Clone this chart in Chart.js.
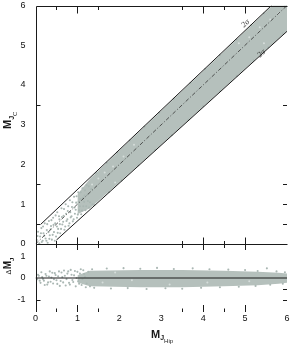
<!DOCTYPE html>
<html><head><meta charset="utf-8">
<script src="https://cdn.jsdelivr.net/npm/chart.js@4.4.1/dist/chart.umd.min.js"></script>
<style>
html,body{margin:0;padding:0;background:#fff;width:290px;height:345px;overflow:hidden}
#top{position:absolute;left:0;top:0}
#bot{position:absolute;left:0;top:240px}
</style></head><body>
<canvas id="top" width="290" height="250"></canvas>
<canvas id="bot" width="290" height="105"></canvas>
<script>
// ---------- tick labels / tick marks ----------
const X_TICK_LABELS = [0, 1, 2, 3, 4, 5, 6];
const Y_TOP_TICK_LABELS = [0, 1, 2, 3, 4, 5, 6];
const Y_RES_TICK_LABELS = [-1, 0, 1];
const X_TICK_MARKS = [0.5, 1, 1.5, 3.5, 4, 4.5, 5];
const TOP_LEFT_MARKS = [0.5, 1.5, 3.5];
const TOP_RIGHT_MARKS = [0.5, 1, 1.5, 3.5];
const RES_LEFT_MARKS = [-1];
const RES_RIGHT_MARKS = [-0.5, -1];

// ---------- top panel: relation lines ----------
const DIAG_X = [0, 6];
const DIAG_Y = [0, 6];
const UPPER_SIGMA_X = [0.13, 5.63];
const UPPER_SIGMA_Y = [0.5, 6.0];
const LOWER_SIGMA_X = [0.5, 6.0];
const LOWER_SIGMA_Y = [0.1, 5.35];
const SIGMA_LABEL_X = [5.01, 5.39];
const SIGMA_LABEL_Y = [5.55, 4.79];
const SIGMA_LABEL_TEXT = ['2σ', '2σ'];

// ---------- top panel: dense cloud envelope ----------
const CLOUD_UP_X = [1.0, 1.3, 2, 3, 4, 5, 6];
const CLOUD_UP_Y = [1.25, 1.64, 2.35, 3.35, 4.35, 5.35, 6.35];
const CLOUD_LO_X = [1.0, 1.3, 2, 3, 4, 5, 6];
const CLOUD_LO_Y = [0.75, 0.9, 1.55, 2.5, 3.45, 4.41, 5.36];

// ---------- top panel: individual stars ----------
const TOP_STAR_X = [0.03,0.06,0.09,0.11,0.14,0.17,0.19,0.22,0.24,0.27,0.29,0.32,0.34,0.37,0.39,0.42,0.44,0.47,0.49,0.52,0.54,0.57,0.59,0.62,0.64,0.67,0.69,0.72,0.74,0.77,0.79,0.82,0.84,0.87,0.89,0.92,0.94,0.97,0.99,1.02,1.04,1.07,1.09,1.12,1.14,1.17,1.19,1.22,1.25,1.28,
  0.05,0.13,0.15,0.18,0.21,0.26,0.28,0.31,0.33,0.36,0.38,0.41,0.43,0.46,0.48,0.51,0.53,0.56,0.58,0.61,0.63,0.66,0.68,0.71,0.73,0.76,0.78,0.81,0.83,0.86,0.88,0.91,0.93,0.96,0.98,1.01,1.03,1.06,1.08,1.11,1.13,1.16,1.18,1.21,1.24,1.27,1.3,1.33,1.36,
  1.45,1.7,1.95,2.25,2.6,2.95,3.3,3.7,4.05,4.4,4.8,5.15,5.45,
  1.4,1.75,2.05,2.45,2.85,3.25,3.65,4.0,4.4,4.8,5.2,5.55,5.9];
const TOP_STAR_Y = [0.10,0.31,0.02,0.19,0.40,0.08,0.27,0.52,0.14,0.35,0.03,0.58,0.22,0.45,0.11,0.66,0.30,0.52,0.19,0.80,0.38,0.62,0.27,0.90,0.49,0.71,0.36,1.00,0.58,0.83,0.46,1.10,0.67,0.93,0.57,1.19,0.76,1.04,0.66,1.30,0.85,1.13,0.75,1.40,0.95,1.22,0.85,1.48,1.08,0.92,
  0.2,0.27,0.05,0.44,0.21,0.08,0.5,0.3,0.13,0.37,0.6,0.23,0.48,0.08,0.72,0.44,0.28,0.7,0.5,0.38,0.68,0.56,0.88,0.44,0.76,0.62,0.95,0.52,0.8,0.7,1.05,0.62,0.92,0.86,1.2,0.74,1.06,0.95,1.3,0.84,1.16,1.06,1.35,0.95,1.25,1.45,1.05,1.38,1.0,
  1.78,2.04,2.3,2.6,2.95,3.3,3.65,4.05,4.4,4.75,5.14,5.5,5.8,
  0.98,1.31,1.6,1.98,2.37,2.74,3.13,3.47,3.85,4.23,4.62,4.95,5.3];
const TOP_GAP_X = [1.35,1.5,1.65,1.85,2.1,2.35,1.9,4.85,5.1,5.35,5.6,5.8,5.95,5.45];
const TOP_GAP_Y = [1.5,1.65,1.8,1.95,2.2,2.5,1.55,5.05,5.2,5.45,5.65,5.8,6.0,5.05];

// ---------- bottom panel: residuals ----------
const ZERO_X = [0, 6];
const ZERO_Y = [0, 0];
const RES_UP_X = [1.0, 1.3, 2.5, 3.5, 4.5, 5.3, 5.8, 6.0];
const RES_UP_Y = [0.12, 0.33, 0.37, 0.36, 0.33, 0.29, 0.24, 0.2];
const RES_LO_X = [1.0, 1.3, 2.5, 3.5, 4.5, 5.3, 5.8, 6.0];
const RES_LO_Y = [-0.2, -0.38, -0.42, -0.42, -0.38, -0.33, -0.26, -0.22];
const RES_STAR_X = [0.04,0.08,0.12,0.16,0.2,0.24,0.28,0.32,0.36,0.4,0.44,0.48,0.52,0.56,0.6,0.64,0.68,0.72,0.76,0.8,0.84,0.88,0.92,0.96,1.0,1.04,1.08,1.12,1.16,1.2,
  0.06,0.1,0.14,0.18,0.22,0.26,0.3,0.34,0.38,0.42,0.46,0.5,0.54,0.58,0.62,0.66,0.7,0.74,0.78,0.82,0.86,0.9,0.94,0.98,1.02,1.06,1.1,1.14,1.18,1.22,1.26,1.3,
  1.35,1.7,2.1,2.5,2.9,3.3,3.75,4.15,4.6,5.0,5.3,5.52,5.75,5.95,
  1.4,1.8,2.2,2.65,3.1,3.5,3.95,4.4,4.85,5.25,5.6,5.9];
const RES_STAR_Y = [-0.06,0.1,-0.22,0.04,-0.12,0.18,-0.3,0.07,-0.17,0.24,-0.06,0.14,-0.27,0.3,-0.14,0.04,0.34,-0.34,0.2,-0.22,0.37,-0.09,0.12,-0.38,0.28,-0.26,0.4,-0.05,0.18,-0.42,
  0.15,-0.12,0.26,-0.05,-0.32,0.1,-0.2,0.3,0.02,-0.25,0.22,-0.1,0.08,-0.36,0.25,-0.2,0.1,-0.05,0.3,-0.3,0.15,-0.18,0.32,0.0,-0.15,0.2,-0.32,0.35,0.05,-0.25,0.28,-0.38,
  0.4,0.43,0.45,0.42,0.46,0.41,0.44,0.4,0.38,0.36,0.32,0.44,0.3,0.26,
  -0.45,-0.48,-0.46,-0.5,-0.47,-0.49,-0.45,-0.42,-0.4,-0.36,-0.31,-0.26];
const RES_GAP_X = [1.6,2.3,3.2,4.1,5.1,1.9];
const RES_GAP_Y = [-0.2,-0.1,-0.3,-0.2,-0.15,0.25];

// ---------- styling ----------
const CLOUD = 'rgb(181,192,188)';
const STAR = 'rgb(170,183,179)';
const SPECK = 'rgb(214,221,219)';
const INK = '#1a1a1a';
const FONT = "'Liberation Sans', Arial, sans-serif";

const pts = (xs, ys) => xs.map((x, i) => ({x: x, y: ys[i]}));
const lineDs = (xs, ys, extra) => Object.assign({data: pts(xs, ys), showLine: true, pointRadius: 0, borderColor: INK, borderWidth: 1, fill: false, tension: 0}, extra);
const dotDs = (xs, ys, color, order, r) => ({data: pts(xs, ys), showLine: false, pointRadius: r || 1.05, pointBorderWidth: 0, pointBackgroundColor: color, pointHoverRadius: 1, order: order});

function drawRuns(ctx, x0, y0, runs, vertical) {
  ctx.save();
  ctx.translate(x0, y0);
  if (vertical) ctx.rotate(-Math.PI / 2);
  let cx = 0;
  ctx.fillStyle = INK;
  ctx.textBaseline = 'alphabetic';
  ctx.textAlign = 'left';
  for (const r of runs) {
    ctx.font = r.font;
    ctx.fillText(r.text, cx, r.dy || 0);
    cx += ctx.measureText(r.text).width + (r.gap || 0);
  }
  ctx.restore();
}

const baseOptions = {
  responsive: false, animation: false, devicePixelRatio: 1,
  plugins: {legend: {display: false}, tooltip: {enabled: false}},
  events: []
};

function fixV(s) { s.width = 35.5; s.paddingTop = 0; s.paddingBottom = 0; }
function fixH(s) { s.height = 33; s.paddingLeft = 0; s.paddingRight = 0; }

const topDeco = {
  id: 'topDeco',
  afterDraw(chart) {
    const {ctx, chartArea: a, scales: {x, y}} = chart;
    const px = v => Math.round(x.getPixelForValue(v)) + 0.5;
    const py = v => Math.round(y.getPixelForValue(v)) + 0.5;
    const L = Math.round(a.left) + 0.5, R = a.right, T = Math.round(a.top) + 0.5, B = py(0);
    ctx.save();
    ctx.strokeStyle = INK; ctx.lineWidth = 1;
    ctx.beginPath();
    ctx.moveTo(L, T); ctx.lineTo(R + 0.5, T);
    ctx.moveTo(L, T); ctx.lineTo(L, chart.height);
    ctx.moveTo(L, B); ctx.lineTo(R + 0.5, B);
    for (const v of X_TICK_MARKS) {
      const len = Number.isInteger(v) ? 7 : 3.5;
      ctx.moveTo(px(v), T); ctx.lineTo(px(v), T + len);
      ctx.moveTo(px(v), B - len); ctx.lineTo(px(v), B + len);
    }
    for (const v of TOP_LEFT_MARKS) { ctx.moveTo(L, py(v)); ctx.lineTo(L + 4, py(v)); }
    for (const v of TOP_RIGHT_MARKS) { ctx.moveTo(R, py(v)); ctx.lineTo(R - 4, py(v)); }
    ctx.stroke();
    ctx.fillStyle = '#333';
    ctx.font = "italic 8px 'Liberation Serif', serif";
    ctx.textAlign = 'center'; ctx.textBaseline = 'middle';
    SIGMA_LABEL_TEXT.forEach((t, i) => {
      ctx.save();
      ctx.translate(x.getPixelForValue(SIGMA_LABEL_X[i]), y.getPixelForValue(SIGMA_LABEL_Y[i]));
      ctx.rotate(-0.76);
      ctx.fillText(t, 0, 0);
      ctx.restore();
    });
    ctx.restore();
    drawRuns(ctx, 10.5, 129, [
      {text: 'M', font: 'bold 11px ' + FONT},
      {text: 'J', font: 'bold 7px ' + FONT, dy: 3},
      {text: 'C', font: '6px ' + FONT, dy: 6}
    ], true);
  }
};

const botDeco = {
  id: 'botDeco',
  afterDraw(chart) {
    const {ctx, chartArea: a, scales: {x, y}} = chart;
    const px = v => Math.round(x.getPixelForValue(v)) + 0.5;
    const py = v => Math.round(y.getPixelForValue(v)) + 0.5;
    const L = Math.round(a.left) + 0.5, R = a.right, Bt = a.bottom;
    ctx.save();
    ctx.strokeStyle = INK; ctx.lineWidth = 1;
    ctx.beginPath();
    ctx.moveTo(L, 0); ctx.lineTo(L, Bt);
    for (const v of X_TICK_MARKS) {
      const len = Number.isInteger(v) ? 7 : 3.5;
      ctx.moveTo(px(v), Bt); ctx.lineTo(px(v), Bt - len);
    }
    for (const v of RES_LEFT_MARKS) { ctx.moveTo(L, py(v)); ctx.lineTo(L + 4, py(v)); }
    for (const v of RES_RIGHT_MARKS) { ctx.moveTo(R, py(v)); ctx.lineTo(R - 4, py(v)); }
    ctx.stroke();
    ctx.restore();
    drawRuns(ctx, 10.5, 34.5, [
      {text: 'Δ', font: '7px ' + FONT, gap: 0.5},
      {text: 'M', font: 'bold 10px ' + FONT},
      {text: 'J', font: 'bold 6px ' + FONT, dy: 3}
    ], true);
    drawRuns(ctx, 151, 97.5, [
      {text: 'M', font: 'bold 11px ' + FONT},
      {text: 'J', font: 'bold 7px ' + FONT, dy: 2.5},
      {text: 'Hip', font: '6px ' + FONT, dy: 5.5}
    ], false);
  }
};

const tickFont = {family: FONT, size: 9};

new Chart(document.getElementById('top'), {
  type: 'line',
  data: {
    datasets: [
      lineDs(DIAG_X, DIAG_Y, {borderDash: [4, 2, 1, 2], borderWidth: 0.8, borderColor: '#333', order: 1}),
      lineDs(UPPER_SIGMA_X, UPPER_SIGMA_Y, {order: 1}),
      lineDs(LOWER_SIGMA_X, LOWER_SIGMA_Y, {order: 1}),
      dotDs(TOP_GAP_X, TOP_GAP_Y, SPECK, 3, 1),
      dotDs(TOP_STAR_X, TOP_STAR_Y, STAR, 4),
      lineDs(CLOUD_UP_X, CLOUD_UP_Y, {borderWidth: 0, borderColor: 'rgba(0,0,0,0)', backgroundColor: CLOUD, fill: 6, order: 5}),
      lineDs(CLOUD_LO_X, CLOUD_LO_Y, {borderWidth: 0, borderColor: 'rgba(0,0,0,0)', order: 6})
    ]
  },
  options: Object.assign({}, baseOptions, {
    layout: {padding: {top: 5.5, right: 3, bottom: 6, left: 0}},
    scales: {
      x: {type: 'linear', min: 0, max: 6, display: false},
      y: {type: 'linear', min: 0, max: 6,
        afterFit: fixV,
        afterBuildTicks(s) { s.ticks = Y_TOP_TICK_LABELS.map(v => ({value: v})); },
        grid: {display: false, drawTicks: false}, border: {display: false},
        ticks: {padding: 10, color: '#111', font: tickFont}
      }
    }
  }),
  plugins: [topDeco]
});

new Chart(document.getElementById('bot'), {
  type: 'line',
  data: {
    datasets: [
      lineDs(ZERO_X, ZERO_Y, {order: 1}),
      dotDs(RES_GAP_X, RES_GAP_Y, SPECK, 3, 1),
      dotDs(RES_STAR_X, RES_STAR_Y, STAR, 4),
      lineDs(RES_UP_X, RES_UP_Y, {borderWidth: 0, borderColor: 'rgba(0,0,0,0)', backgroundColor: CLOUD, fill: 4, order: 5}),
      lineDs(RES_LO_X, RES_LO_Y, {borderWidth: 0, borderColor: 'rgba(0,0,0,0)', order: 6})
    ]
  },
  options: Object.assign({}, baseOptions, {
    layout: {padding: {top: 4, right: 3, bottom: 0, left: 0}},
    scales: {
      x: {type: 'linear', min: 0, max: 6, position: 'bottom',
        afterFit: fixH,
        afterBuildTicks(s) { s.ticks = X_TICK_LABELS.map(v => ({value: v})); },
        grid: {display: false, drawTicks: false}, border: {display: false},
        ticks: {padding: 1, color: '#111', font: tickFont, maxRotation: 0, autoSkip: false}
      },
      y: {type: 'linear', min: -1.55, max: 1.55,
        afterFit: fixV,
        afterBuildTicks(s) { s.ticks = Y_RES_TICK_LABELS.map(v => ({value: v})); },
        grid: {display: false, drawTicks: false}, border: {display: false},
        ticks: {padding: 10, color: '#111', font: tickFont}
      }
    }
  }),
  plugins: [botDeco]
});
</script>
</body></html>
